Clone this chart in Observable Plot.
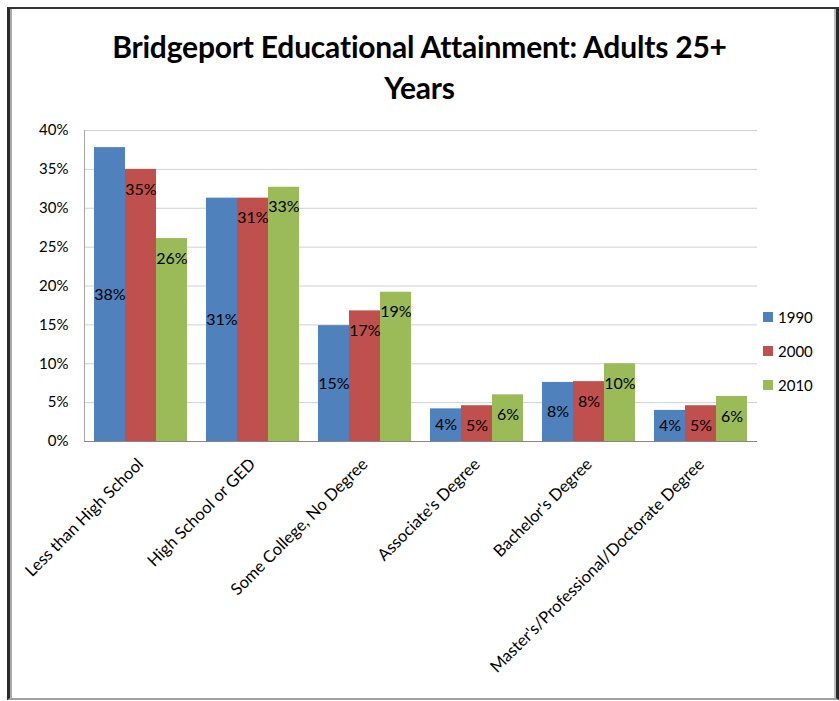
<!DOCTYPE html>
<html>
<head>
<meta charset="utf-8">
<script src="https://cdn.jsdelivr.net/npm/d3@7"></script>
<script src="https://cdn.jsdelivr.net/npm/@observablehq/plot@0.6"></script>
<style>
  body { margin: 0; background: #fff; font-family: Lato, "Open Sans", sans-serif; }
  #wrap { position: relative; width: 839px; height: 701px; overflow: hidden; background: #fff; }
  #frame { position: absolute; left: 7px; top: 7px; width: 832px; height: 693px; box-sizing: border-box;
    border-top: 2px solid #333; border-left: 3px solid #2a2a2a; border-right: 3px solid #2a2a2a; border-bottom: 2px solid #a0a0a0;
    box-shadow: inset 2px 0 0 #aaa, inset -2px 0 0 #bbb; pointer-events: none; z-index: 5; }
  #title { position: absolute; left: 0; top: 26px; width: 839px; text-align: center; font: 700 30px Lato, sans-serif; line-height: 41px; color: #000; letter-spacing: -0.2px; }
  .layer { position: absolute; left: 0; top: 110px; }
  .leg { position: absolute; left: 763px; height: 20px; display: flex; align-items: center; font: 15px Lato, sans-serif; color: #000; }
  .leg span.sw { display: inline-block; width: 10px; height: 10px; margin-right: 5px; }
</style>
</head>
<body>
<div id="wrap">
  <div id="title">Bridgeport Educational Attainment: Adults 25+<br>Years</div>
  <div id="base" class="layer"></div>
  <div id="bars" class="layer"></div>
  <div id="legend"></div>
  <div id="frame"></div>
</div>
<script>
const categories = ["Less than High School", "High School or GED", "Some College, No Degree", "Associate's Degree", "Bachelor's Degree", "Master's/Professional/Doctorate Degree"];
const years = ["1990", "2000", "2010"];
const v1990 = [37.8, 31.3, 14.9, 4.2, 7.6, 4.0];
const v2000 = [35.0, 31.3, 16.8, 4.6, 7.7, 4.6];
const v2010 = [26.1, 32.7, 19.2, 6.0, 10.0, 5.8];
const colors = ["#4F81BD", "#C0504D", "#9BBB59"];
const yTicks = [0, 5, 10, 15, 20, 25, 30, 35, 40];

const series = [v1990, v2000, v2010];
const data = categories.flatMap((c, i) => years.map((y, j) => ({category: c, year: y, value: series[j][i]})));

const W = 839, H = 591;
const M = {marginTop: 20, marginBottom: 260, marginLeft: 84, marginRight: 82};
const font = "Lato, 'Open Sans', sans-serif";

const base = Plot.plot({
  width: W, height: H, ...M,
  style: {fontFamily: font, fontSize: "15px", color: "#000", background: "transparent", overflow: "visible"},
  x: {domain: [0, categories.length], axis: null},
  y: {domain: [0, 40], ticks: yTicks, tickFormat: d => d + "%", tickSize: 0, tickPadding: 16, label: null},
  marks: [
    Plot.ruleY(yTicks, {stroke: "#d0d0d0"}),
    Plot.ruleX([0], {stroke: "#a6a6a6"}),
    Plot.ruleY([0], {stroke: "#868686"}),
    Plot.text(categories, {x: (d, i) => i + 0.5, y: 0, text: d => d, rotate: -45, textAnchor: "end", lineAnchor: "middle", dx: 0, dy: 20, fontSize: 16.5, fill: "#000"})
  ]
});
document.getElementById("base").appendChild(base);

const bars = Plot.plot({
  width: W, height: H, ...M,
  style: {fontFamily: font, fontSize: "16px", color: "#000", background: "transparent", overflow: "visible"},
  facet: {data, x: "category"},
  fx: {domain: categories, paddingInner: 0.16, paddingOuter: 0.08, axis: null, label: null},
  x: {domain: years, padding: 0, axis: null},
  y: {domain: [0, 40], axis: null},
  color: {domain: years, range: colors},
  marks: [
    Plot.barY(data, {x: "year", y: "value", fill: "year"}),
    Plot.text(data, {filter: d => d.year === years[0], x: "year", y: d => d.value / 2, text: d => Math.round(d.value) + "%", fontSize: 16, fill: "#000"}),
    Plot.text(data, {filter: d => d.year !== years[0], x: "year", y: "value", dy: 20, text: d => Math.round(d.value) + "%", fontSize: 16, fill: "#000"})
  ]
});
document.getElementById("bars").appendChild(bars);

const leg = document.getElementById("legend");
years.forEach((y, j) => {
  const row = document.createElement("div");
  row.className = "leg";
  row.style.top = (307 + 34 * j) + "px";
  row.innerHTML = `<span class="sw" style="background:${colors[j]}"></span><span>${y}</span>`;
  leg.appendChild(row);
});
</script>
</body>
</html>
